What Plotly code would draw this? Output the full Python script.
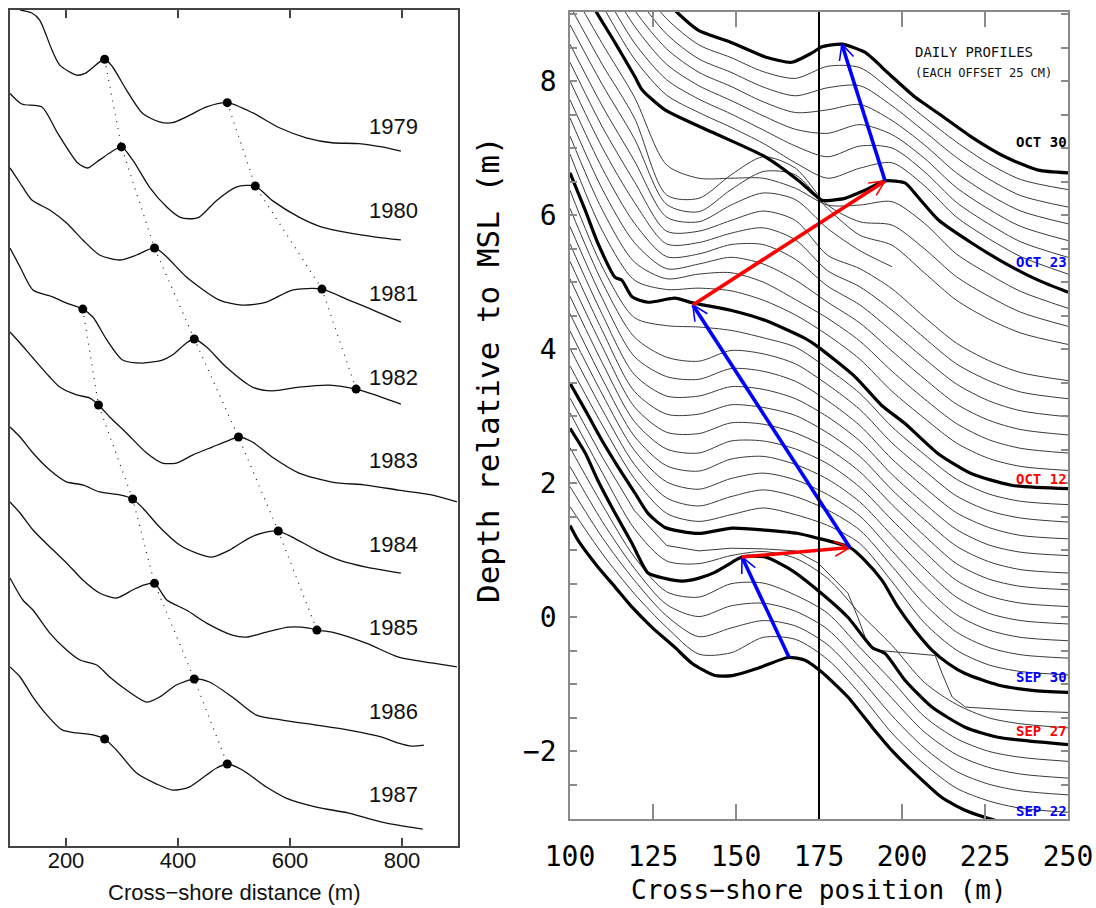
import math
import numpy as np
import plotly.graph_objects as go

# ================= LEFT PANEL: annual profiles =================
years = [1979, 1980, 1981, 1982, 1983, 1984, 1985, 1986, 1987]
year_offset_step = 5.0  # vertical stacking between years (m)

p1979_x = [118, 139, 153, 175, 189, 219, 234, 269, 283, 308, 337, 367, 390, 415, 451, 488, 533, 581, 629, 675, 723, 764, 798]
p1979_z = [0, -0.18, -0.6, -2.4, -3.3, -3.9, -3.8, -2.95, -3.4, -4.8, -6.2, -6.7, -6.75, -6.4, -5.8, -5.55, -6.15, -7.05, -7.65, -7.95, -8.0, -8.2, -8.45]
p1980_x = [100, 121, 157, 185, 221, 239, 255, 278, 299, 319, 349, 380, 403, 420, 438, 469, 504, 538, 568, 616, 657, 705, 753, 798]
p1980_z = [0, -0.63, -0.81, -2.37, -4.16, -4.46, -4.1, -3.56, -3.2, -3.98, -5.6, -6.8, -7.4, -7.5, -7.4, -6.4, -5.6, -5.54, -6.4, -7.4, -8.0, -8.35, -8.6, -8.77]
p1981_x = [100, 118, 139, 171, 201, 230, 260, 296, 326, 358, 380, 415, 474, 515, 558, 604, 657, 705, 736, 798]
p1981_z = [0.54, -0.36, -1.38, -1.98, -2.76, -3.77, -4.67, -4.97, -4.67, -4.25, -4.79, -5.99, -7.37, -7.67, -7.49, -6.77, -6.71, -7.37, -7.79, -8.69]
p1982_x = [100, 118, 141, 177, 201, 230, 248, 273, 301, 337, 372, 390, 415, 429, 451, 486, 533, 568, 616, 670, 718, 753, 798]
p1982_z = [0.75, -0.39, -1.77, -2.19, -2.55, -2.91, -3.38, -4.76, -5.96, -6.14, -5.96, -5.66, -4.94, -4.70, -5.18, -6.38, -7.58, -7.81, -7.58, -7.46, -7.70, -8.06, -8.6]
p1983_x = [100, 118, 141, 171, 189, 219, 242, 258, 278, 308, 344, 372, 397, 426, 461, 492, 508, 533, 568, 616, 675, 736, 794, 853, 898]
p1983_z = [0.72, 0.06, -0.84, -1.98, -2.58, -3.05, -3.23, -3.65, -4.37, -5.33, -6.53, -7.13, -7.13, -6.65, -6.17, -5.75, -5.57, -5.87, -6.77, -7.73, -8.27, -8.45, -8.75, -9.04, -9.46]
p1984_x = [100, 118, 141, 171, 201, 230, 260, 296, 319, 337, 367, 403, 433, 460, 492, 527, 550, 579, 604, 647, 688, 736, 798]
p1984_z = [0.03, -0.57, -1.53, -2.55, -3.26, -3.44, -3.86, -4.04, -4.28, -4.82, -5.96, -7.04, -7.52, -7.76, -7.34, -6.62, -6.32, -6.2, -6.56, -7.34, -7.94, -8.36, -8.72]
p1985_x = [100, 118, 141, 177, 201, 230, 260, 290, 319, 337, 358, 380, 415, 451, 497, 522, 558, 598, 634, 648, 675, 736, 794, 853, 898]
p1985_z = [0.54, -0.12, -1.14, -2.34, -3.11, -4.13, -4.91, -5.21, -4.73, -4.45, -4.33, -5.33, -5.93, -6.71, -7.43, -7.55, -7.25, -6.95, -7.01, -7.13, -7.25, -7.91, -8.75, -9.1, -9.34]
p1986_x = [100, 123, 141, 171, 201, 225, 255, 278, 308, 344, 367, 397, 429, 456, 497, 540, 586, 647, 705, 764, 794, 817, 839]
p1986_z = [0.99, -0.33, -0.93, -2.31, -3.32, -3.92, -4.22, -4.94, -5.72, -6.44, -6.14, -5.42, -5.06, -5.24, -6.14, -7.22, -7.52, -7.82, -8.12, -8.54, -8.9, -9.08, -9.02]
p1987_x = [100, 118, 141, 166, 193, 219, 248, 269, 290, 326, 362, 390, 420, 451, 469, 488, 515, 558, 593, 647, 705, 764, 837]
p1987_z = [0.66, 0.06, -1.14, -2.22, -3.11, -3.29, -3.41, -3.65, -4.31, -5.69, -6.35, -6.71, -6.53, -5.81, -5.39, -5.15, -5.51, -6.53, -7.19, -7.73, -8.09, -8.63, -9.05]

annual_x = [p1979_x, p1980_x, p1981_x, p1982_x, p1983_x, p1984_x, p1985_x, p1986_x, p1987_x]
annual_z = [p1979_z, p1980_z, p1981_z, p1982_z, p1983_z, p1984_z, p1985_z, p1986_z, p1987_z]

# bar-crest chains (year, crest position in m)
chain_a_years = [1979, 1980, 1981, 1982]
chain_a_x = [488, 538, 657, 718]
chain_b_years = [1979, 1980, 1981, 1982, 1983, 1984, 1985]
chain_b_x = [269, 299, 358, 429, 508, 579, 648]
chain_c_years = [1982, 1983, 1984, 1985, 1986, 1987]
chain_c_x = [230, 258, 319, 358, 429, 488]
new_bar_years = [1987]
new_bar_x = [269]

# ================= RIGHT PANEL: daily profiles =================
day_offset = 0.25  # each profile offset 25 cm
x_grid = [100, 109.7, 119.4, 129.1, 138.8, 148.5, 158.2, 167.9, 177.6, 187.3, 197.0, 206.7, 216.4, 226.1, 235.8, 250]

thin_days = [1, 2, 3, 4, 6, 9, 10, 11, 12, 13, 14, 15, 16, 17, 18, 19,
             21, 22, 23, 24, 25, 26, 27, 28, 29, 30, 32, 33, 34, 35, 36, 37]
thin_depth = [
    [1.40, 0.70, 0.10, -0.40, -0.80, -0.78, -0.55, -0.58, -0.88, -1.39, -1.98, -2.44, -2.80, -2.99, -3.10, -3.16],
    [1.45, 0.69, 0.05, -0.48, -0.79, -0.66, -0.55, -0.63, -0.91, -1.41, -1.97, -2.45, -2.80, -2.99, -3.09, -3.15],
    [1.50, 0.68, -0.02, -0.56, -0.74, -0.58, -0.54, -0.66, -0.93, -1.43, -1.96, -2.46, -2.80, -2.99, -3.09, -3.15],
    [1.53, 0.68, -0.10, -0.62, -0.70, -0.50, -0.49, -0.67, -0.94, -1.45, -1.95, -2.48, -2.81, -3.00, -3.09, -3.15],
    [1.55, 0.66, -0.18, -0.66, -0.70, -0.58, -0.52, -0.62, -0.92, -1.44, -1.92, -2.47, -2.80, -3.00, -3.09, -3.15],
    [1.50, 0.62, -0.18, -0.70, -0.82, -0.72, -0.62, -0.72, -0.88, -1.15, -1.72, -2.33, -2.74, -2.96, -3.06, -3.11],
    [1.51, 0.60, -0.22, -0.72, -0.84, -0.70, -0.60, -0.70, -0.90, -1.20, -1.74, -2.30, -2.72, -2.95, -3.06, -3.11],
    [1.52, 0.58, -0.26, -0.73, -0.84, -0.68, -0.60, -0.70, -0.92, -1.24, -1.76, -2.28, -2.71, -2.94, -3.05, -3.10],
    [1.53, 0.56, -0.30, -0.74, -0.82, -0.64, -0.60, -0.72, -0.94, -1.28, -1.78, -2.27, -2.70, -2.94, -3.05, -3.10],
    [1.54, 0.55, -0.33, -0.74, -0.80, -0.62, -0.62, -0.74, -0.96, -1.31, -1.80, -2.27, -2.70, -2.93, -3.04, -3.09],
    [1.55, 0.54, -0.36, -0.74, -0.76, -0.60, -0.62, -0.75, -0.98, -1.33, -1.82, -2.28, -2.70, -2.93, -3.04, -3.09],
    [1.56, 0.53, -0.38, -0.72, -0.72, -0.58, -0.62, -0.74, -1.00, -1.35, -1.85, -2.29, -2.69, -2.92, -3.04, -3.09],
    [1.57, 0.52, -0.38, -0.70, -0.70, -0.56, -0.60, -0.74, -1.01, -1.37, -1.87, -2.30, -2.69, -2.92, -3.03, -3.08],
    [1.58, 0.51, -0.36, -0.66, -0.70, -0.54, -0.58, -0.73, -1.02, -1.39, -1.89, -2.31, -2.69, -2.91, -3.03, -3.08],
    [1.60, 0.50, -0.32, -0.62, -0.68, -0.52, -0.57, -0.72, -1.03, -1.40, -1.90, -2.31, -2.69, -2.91, -3.02, -3.08],
    [1.62, 0.48, -0.28, -0.40, -0.42, -0.47, -0.58, -0.72, -1.04, -1.41, -1.91, -2.32, -2.69, -2.91, -3.02, -3.07],
    [1.66, 0.52, -0.22, -0.36, -0.34, -0.38, -0.52, -0.74, -1.04, -1.40, -1.88, -2.28, -2.65, -2.88, -3.00, -3.06],
    [1.68, 0.58, -0.20, -0.45, -0.38, -0.36, -0.50, -0.76, -1.04, -1.38, -1.83, -2.24, -2.61, -2.85, -2.98, -3.05],
    [1.70, 0.64, -0.16, -0.55, -0.48, -0.38, -0.48, -0.72, -1.05, -1.36, -1.78, -2.19, -2.57, -2.81, -2.95, -3.03],
    [1.72, 0.70, -0.12, -0.62, -0.58, -0.44, -0.44, -0.66, -1.06, -1.34, -1.73, -2.14, -2.52, -2.77, -2.92, -3.01],
    [1.75, 0.76, -0.06, -0.68, -0.66, -0.52, -0.44, -0.62, -1.08, -1.32, -1.67, -2.08, -2.47, -2.72, -2.89, -2.99],
    [1.78, 0.82, 0.00, -0.74, -0.74, -0.58, -0.44, -0.58, -1.10, -1.30, -1.60, -2.02, -2.41, -2.67, -2.85, -2.97],
    [1.80, 0.88, 0.06, -0.78, -0.85, -0.60, -0.42, -0.52, -0.95, -1.28, -1.52, None, None, None, None, None],
    [1.84, 0.95, 0.14, -0.84, -0.95, -0.62, -0.35, -0.40, -0.90, -1.30, -1.45, -1.86, -2.27, -2.55, -2.76, -2.93],
    [1.87, 1.00, 0.20, -0.95, -1.00, -0.65, -0.38, -0.55, -1.10, -1.35, -1.40, -1.75, -2.17, -2.46, -2.70, -2.91],
    [1.90, 1.06, 0.26, -0.75, -0.95, -0.95, -0.95, -1.10, -1.35, -1.35, -1.30, -1.62, -2.08, -2.38, -2.64, -2.89],
    [1.95, 1.13, 0.33, -0.21, -0.47, -0.69, -0.93, -1.22, -1.45, -1.30, -1.22, -1.56, -2.03, -2.35, -2.62, -2.88],
    [1.94, 1.12, 0.32, -0.23, -0.52, -0.74, -0.98, -1.22, -1.38, -1.22, -1.25, -1.60, -2.06, -2.38, -2.65, -2.88],
    [1.93, 1.12, 0.32, -0.25, -0.57, -0.79, -1.02, -1.22, -1.28, -1.15, -1.30, -1.65, -2.09, -2.41, -2.67, -2.88],
    [1.92, 1.11, 0.31, -0.27, -0.62, -0.83, -1.06, -1.22, -1.18, -1.10, -1.34, -1.70, -2.12, -2.44, -2.69, -2.88],
    [1.91, 1.11, 0.31, -0.30, -0.67, -0.87, -1.09, -1.22, -1.10, -1.07, -1.37, -1.75, -2.14, -2.46, -2.71, -2.88],
    [1.90, 1.10, 0.30, -0.32, -0.71, -0.90, -1.11, -1.21, -1.03, -1.05, -1.40, -1.79, -2.16, -2.48, -2.72, -2.87],
]

# Sep 29 (day 7) - profile with a survey glitch
sep29_day = 7
sep29_x = [100, 109.7, 119.4, 129.1, 138.8, 148.5, 158.2, 167.9, 174.7, 183.7, 186.7, 188.9, 191.9, 210.0, 212.1, 215.1, 219.1, 228.1, 237.8, 250]
sep29_depth = [1.52, 0.64, -0.16, -0.68, -0.76, -0.72, -0.73, -0.76, -0.94, -1.39, -1.75, -2.05, -2.24, -2.32, -2.59, -2.94, -3.09, -3.12, -3.15, -3.17]

# highlighted (bold) profiles
sep22_x = [100, 102.4, 108.4, 113.6, 118.7, 124.7, 131.6, 136.8, 143.6, 148.8, 156.6, 165.7, 170.8, 175.9, 183.7, 191.0, 197.0, 203.9, 212.0, 219.0, 225.9, 235.8, 245]
sep22_depth = [1.37, 1.15, 0.75, 0.45, 0.15, -0.15, -0.45, -0.69, -0.87, -0.87, -0.76, -0.6, -0.64, -0.82, -1.19, -1.64, -1.99, -2.33, -2.69, -2.88, -3.0, -3.12, -3.2]
sep27_x = [100, 104.6, 108.4, 113.6, 118.7, 123.5, 128.6, 133.8, 138.6, 143.6, 148.8, 151.8, 158.8, 166.8, 174.7, 183.7, 191.0, 194.9, 200.9, 209.0, 219.0, 228.9, 250]
sep27_depth = [1.57, 1.20, 0.79, 0.30, -0.15, -0.59, -0.67, -0.71, -0.67, -0.58, -0.43, -0.35, -0.35, -0.55, -0.85, -1.25, -1.70, -1.79, -2.19, -2.59, -2.89, -3.04, -3.15]
sep30_x = [100, 104.6, 109.6, 114.5, 119.6, 123.5, 128.6, 138.6, 148.8, 158.8, 168.7, 173.8, 184.4, 188.8, 194.0, 198.8, 203.8, 209.0, 213.9, 219.0, 228.9, 239.2, 250]
sep30_depth = [1.49, 1.09, 0.64, 0.24, -0.15, -0.45, -0.66, -0.75, -0.67, -0.70, -0.75, -0.81, -0.96, -1.15, -1.45, -1.85, -2.19, -2.49, -2.69, -2.84, -3.01, -3.09, -3.12]
oct12_x = [100, 104.6, 108.4, 113.6, 115.6, 118.7, 123.5, 131.6, 137.0, 148.4, 158.7, 170.8, 174.8, 185.8, 193.9, 200.9, 210.9, 221.0, 233.0, 250]
oct12_depth = [1.63, 1.07, 0.58, 0.07, 0.03, -0.22, -0.30, -0.24, -0.31, -0.42, -0.57, -0.84, -0.97, -1.41, -1.84, -2.11, -2.56, -2.86, -3.03, -3.08]
oct23_x = [103.9, 107.6, 113.6, 119.6, 121.7, 128.6, 143.6, 158.8, 168.7, 173.8, 175.9, 182.8, 188.8, 194.9, 200.9, 204.8, 210.9, 221.1, 231.1, 241.0, 250]
oct23_depth = [1.70, 1.31, 0.82, 0.31, 0.12, -0.18, -0.53, -0.88, -1.23, -1.45, -1.53, -1.50, -1.38, -1.24, -1.27, -1.48, -1.82, -2.17, -2.47, -2.72, -2.90]
oct30_x = [127.2, 131.6, 138.6, 148.8, 158.8, 166.8, 172.9, 175.9, 181.9, 188.8, 195.8, 203.9, 210.9, 221.1, 231.0, 241.0, 250]
oct30_depth = [-0.10, -0.44, -0.74, -0.93, -1.14, -1.22, -1.08, -0.99, -0.95, -1.07, -1.38, -1.74, -1.98, -2.34, -2.63, -2.83, -2.87]

bold_days = [0, 5, 8, 20, 31, 38]
bold_labels = ["SEP 22", "SEP 27", "SEP 30", "OCT 12", "OCT 23", "OCT 30"]
bold_label_colors = ["#0000ff", "#ff0000", "#0000ff", "#ff0000", "#0000ff", "#000000"]
bold_x = [sep22_x, sep27_x, sep30_x, oct12_x, oct23_x, oct30_x]
bold_depth = [sep22_depth, sep27_depth, sep30_depth, oct12_depth, oct23_depth, oct30_depth]

# bar-crest positions on the highlighted days (m, depth m)
crest_x = [166.0, 151.8, 184.3, 137.0, 194.9, 181.9]
crest_depth = [-0.60, -0.35, -0.96, -0.34, -1.24, -0.95]
arrow_colors = ["#0000ff", "#ff0000", "#0000ff", "#ff0000", "#0000ff"]

reference_line_x = 175

# ================= FIGURE =================
W, H = 1096, 908
L_DOM = (10, 458, 10, 846)      # left, right, top, bottom (px)
R_DOM = (570, 1068, 12, 819)
R_XRANGE = [100, 250]
R_YRANGE = [-3.01, 9.03]

fig = go.Figure()

# ---- left panel ----
for i, yr in enumerate(years):
    off = -year_offset_step * i
    fig.add_trace(go.Scatter(x=annual_x[i], y=[z + off for z in annual_z[i]], mode="lines",
                             line=dict(color="#111111", width=1.3, shape="spline", smoothing=0.7),
                             xaxis="x", yaxis="y", hoverinfo="skip"))


def crest_y(year, xc):
    i = years.index(year)
    return float(np.interp(xc, annual_x[i], annual_z[i])) - year_offset_step * i


for ch_years, ch_x in [(chain_a_years, chain_a_x), (chain_b_years, chain_b_x), (chain_c_years, chain_c_x)]:
    ys = [crest_y(y, xc) for y, xc in zip(ch_years, ch_x)]
    fig.add_trace(go.Scatter(x=ch_x, y=ys, mode="lines", line=dict(color="#222222", width=1.2, dash="1px,6px"),
                             xaxis="x", yaxis="y", hoverinfo="skip"))
    fig.add_trace(go.Scatter(x=ch_x, y=ys, mode="markers", marker=dict(color="black", size=9),
                             xaxis="x", yaxis="y", hoverinfo="skip"))
fig.add_trace(go.Scatter(x=new_bar_x, y=[crest_y(y, xc) for y, xc in zip(new_bar_years, new_bar_x)], mode="markers",
                         marker=dict(color="black", size=9), xaxis="x", yaxis="y", hoverinfo="skip"))

for i, yr in enumerate(years):
    fig.add_annotation(x=785, y=-7.0 - year_offset_step * i, xref="x", yref="y", text=str(yr), showarrow=False,
                       xanchor="center", yanchor="middle",
                       font=dict(family="Liberation Sans, Arial", size=22, color="#111111"))

# ---- right panel ----
for d, prof in zip(thin_days, thin_depth):
    off = d * day_offset
    fig.add_trace(go.Scatter(x=x_grid, y=[(z + off) if z is not None else None for z in prof], mode="lines",
                             line=dict(color="#3a3a3a", width=1, shape="spline", smoothing=0.8),
                             xaxis="x2", yaxis="y2", hoverinfo="skip", connectgaps=False))
fig.add_trace(go.Scatter(x=sep29_x, y=[z + sep29_day * day_offset for z in sep29_depth], mode="lines",
                         line=dict(color="#3a3a3a", width=1), xaxis="x2", yaxis="y2", hoverinfo="skip"))

for d, bx, bz in zip(bold_days, bold_x, bold_depth):
    off = d * day_offset
    fig.add_trace(go.Scatter(x=bx, y=[z + off for z in bz], mode="lines",
                             line=dict(color="black", width=3.2, shape="spline", smoothing=0.6),
                             xaxis="x2", yaxis="y2", hoverinfo="skip"))

fig.add_shape(type="line", xref="x2", yref="y2 domain", x0=reference_line_x, x1=reference_line_x, y0=0, y1=1,
              line=dict(color="black", width=2))

# arrows connecting crests
sx = (R_DOM[1] - R_DOM[0]) / (R_XRANGE[1] - R_XRANGE[0])
sy = (R_DOM[3] - R_DOM[2]) / (R_YRANGE[1] - R_YRANGE[0])
arm_len = 17
arm_ang = 0.45
for k in range(len(arrow_colors)):
    c = arrow_colors[k]
    tx, ty = crest_x[k], crest_depth[k] + bold_days[k] * day_offset
    hx, hy = crest_x[k + 1], crest_depth[k + 1] + bold_days[k + 1] * day_offset
    fig.add_trace(go.Scatter(x=[tx, hx], y=[ty, hy], mode="lines", line=dict(color=c, width=3.6),
                             xaxis="x2", yaxis="y2", hoverinfo="skip"))
    vx, vy = (tx - hx) * sx, (ty - hy) * sy
    n = math.hypot(vx, vy)
    ux, uy = vx / n, vy / n
    for a in (arm_ang, -arm_ang):
        rx = ux * math.cos(a) - uy * math.sin(a)
        ry = ux * math.sin(a) + uy * math.cos(a)
        fig.add_trace(go.Scatter(x=[hx, hx + rx * arm_len / sx], y=[hy, hy + ry * arm_len / sy], mode="lines",
                                 line=dict(color=c, width=1.6), xaxis="x2", yaxis="y2", hoverinfo="skip"))

label_shift_px = [21, 14, 15, 10, 30, 31]
for d, bx, bz, lab, col, sh in zip(bold_days, bold_x, bold_depth, bold_labels, bold_label_colors, label_shift_px):
    yend = float(np.interp(R_XRANGE[1], bx, bz)) + d * day_offset
    fig.add_annotation(x=R_XRANGE[1], y=yend + sh / sy, xref="x2", yref="y2", text=lab, showarrow=False,
                       xanchor="right", yanchor="middle", xshift=1,
                       font=dict(family="DejaVu Sans Mono", size=14, color=col, weight="bold"))

fig.add_annotation(x=974 / W, y=1 - 52 / H, xref="paper", yref="paper", text="DAILY PROFILES", showarrow=False,
                   xanchor="center", yanchor="middle",
                   font=dict(family="DejaVu Sans Mono", size=14, color="#111111"))
fig.add_annotation(x=983 / W, y=1 - 73 / H, xref="paper", yref="paper", text="(EACH OFFSET 25 CM)", showarrow=False,
                   xanchor="center", yanchor="middle",
                   font=dict(family="DejaVu Sans Mono", size=12, color="#111111"))

# axis titles
fig.add_annotation(x=234 / W, y=1 - 892 / H, xref="paper", yref="paper", text="Cross\u2212shore distance (m)",
                   showarrow=False, xanchor="center", yanchor="middle",
                   font=dict(family="Liberation Sans, Arial", size=22, color="#111111"))
fig.add_annotation(x=819 / W, y=1 - 890 / H, xref="paper", yref="paper", text="Cross\u2212shore position (m)",
                   showarrow=False, xanchor="center", yanchor="middle",
                   font=dict(family="DejaVu Sans Mono", size=26, color="black"))
fig.add_annotation(x=488 / W, y=1 - 370 / H, xref="paper", yref="paper", text="Depth relative to MSL (m)",
                   showarrow=False, textangle=-90, xanchor="center", yanchor="middle",
                   font=dict(family="DejaVu Sans Mono", size=31, color="black"))

left_frame = "#444444"
right_frame = "#8a8a8a"
fig.update_layout(
    width=W, height=H, margin=dict(l=0, r=0, t=0, b=0, autoexpand=False),
    paper_bgcolor="white", plot_bgcolor="white", showlegend=False,
    xaxis=dict(domain=[L_DOM[0] / W, L_DOM[1] / W], range=[100, 900], tickvals=[200, 400, 600, 800],
               ticks="inside", ticklen=8, tickwidth=1.5, tickcolor=left_frame, showline=True,
               linecolor=left_frame, linewidth=1.5, mirror="ticks", showgrid=False, zeroline=False,
               tickfont=dict(family="Liberation Sans, Arial", size=22, color="#111111"), anchor="y",
               ticklabelstandoff=-6, automargin=False),
    yaxis=dict(domain=[1 - L_DOM[3] / H, 1 - L_DOM[2] / H], range=[-836 / 16.7, 0], showticklabels=False,
               ticks="", showline=True, linecolor=left_frame, linewidth=1.5, mirror=True, showgrid=False,
               zeroline=False, anchor="x", automargin=False),
    xaxis2=dict(domain=[R_DOM[0] / W, R_DOM[1] / W], range=R_XRANGE, tickvals=[100, 125, 150, 175, 200, 225, 250],
                ticks="inside", ticklen=15, tickwidth=1.5, tickcolor=right_frame, showline=True,
                linecolor=right_frame, linewidth=1.5, mirror="ticks", showgrid=False, zeroline=False,
                tickfont=dict(family="DejaVu Sans Mono", size=28, color="black"), anchor="y2",
                ticklabelstandoff=12, automargin=False),
    yaxis2=dict(domain=[1 - R_DOM[3] / H, 1 - R_DOM[2] / H], range=R_YRANGE,
                tickvals=[-2, 0, 2, 4, 6, 8], ticktext=["\u22122", "0", "2", "4", "6", "8"],
                ticks="inside", ticklen=7, tickwidth=1.5, tickcolor=right_frame, showline=True,
                linecolor=right_frame, linewidth=1.5, mirror="ticks", showgrid=False, zeroline=False,
                minor=dict(tickvals=list(np.arange(-3, 9.01, 0.5)), ticks="inside", ticklen=7,
                           tickwidth=1.5, tickcolor=right_frame, showgrid=False),
                tickfont=dict(family="DejaVu Sans Mono", size=28, color="black"), anchor="x2",
                ticklabelstandoff=6, automargin=False),
)

fig.write_html("out.html")
